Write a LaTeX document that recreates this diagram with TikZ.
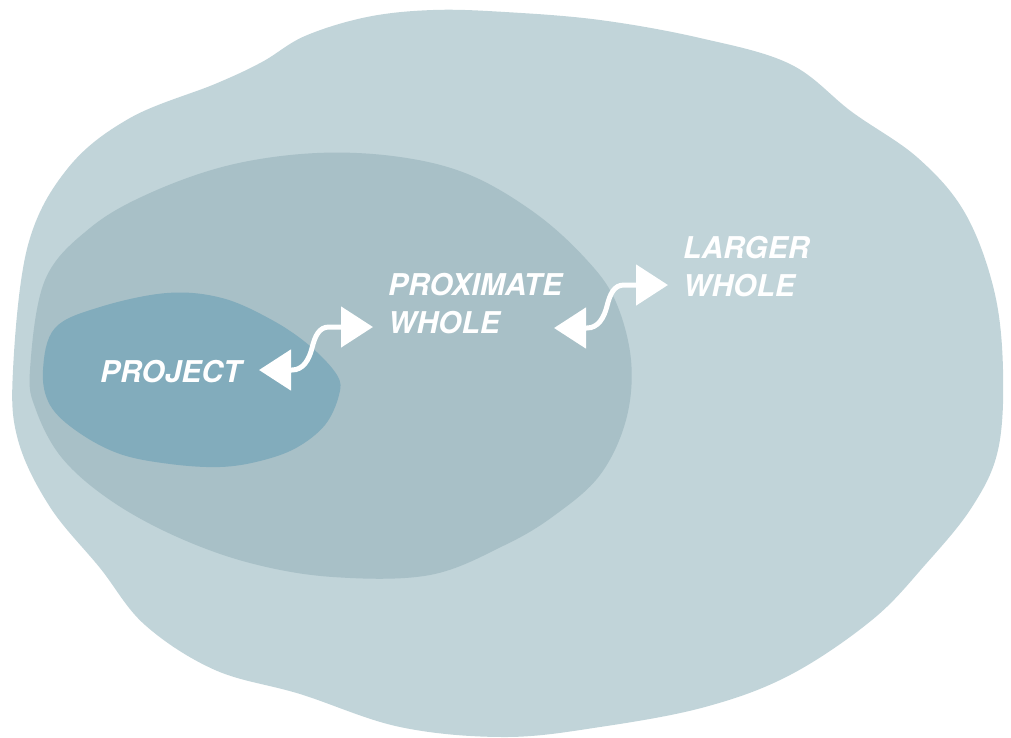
\documentclass[tikz,border=0pt]{standalone}
\usepackage{fontspec}
\setmainfont{TeX Gyre Heros}
\usetikzlibrary{arrows.meta,calc}
\definecolor{outerc}{RGB}{193,212,217}
\definecolor{midc}{RGB}{168,192,199}
\definecolor{innerc}{RGB}{130,172,188}
\begin{document}
\begin{tikzpicture}[x=1pt,y=-1pt,
  lbl/.style={text=white,font=\fontsize{30}{38}\selectfont\bfseries\itshape,inner sep=0pt,align=left},
  wavy/.style={draw=white,line width=5pt,{Triangle[length=32pt,width=40pt]}-{Triangle[length=32pt,width=40pt]}},
  blob/.style={smooth cycle,tension=0.6}]
\useasboundingbox (0,0) rectangle (1011,737);
% larger whole
\fill[outerc] plot[blob] coordinates {(13,370) (28,245) (68,168) (130,118) (215,84) (262,62) (305,36) (367,17) (433,10) (505,12) (600,20) (700,38) (790,64) (852,112) (918,158) (965,213) (994,290) (1003,370) (998,450) (972,507) (925,565) (872,620) (790,675) (705,707) (600,727) (505,737) (400,727) (300,694) (215,670) (145,625) (100,568) (50,507) (18,440)};
% proximate whole
\fill[midc] plot[blob] coordinates {(30,370) (45,280) (90,228) (150,193) (230,165) (317,153) (400,157) (470,175) (535,213) (585,258) (615,300) (631,360) (626,420) (600,475) (555,515) (505,545) (430,575) (333,577) (250,563) (175,536) (110,500) (62,458) (36,410)};
% project
\fill[innerc] plot[blob] coordinates {(43,370) (55,328) (100,307) (167,293) (222,298) (272,320) (310,346) (337,375) (339,395) (325,425) (296,448) (260,461) (220,467) (170,464) (120,454) (78,432) (50,405)};
% labels
\node[lbl,anchor=base west] (project) at (100,382) {PROJECT};
\node[lbl,anchor=north west] (proximate) at (388,273) {PROXIMATE\\WHOLE};
\node[lbl,anchor=north west] (larger) at (683,236) {LARGER\\WHOLE};
% arrows
\coordinate (a1) at (259,370);
\coordinate (b1) at ($(a1)+(114,-43)$);
\coordinate (a2) at (554,328);
\coordinate (b2) at ($(a2)+(114,-43)$);
\draw[wavy] (a1) -- ($(a1)+(33,0)$) .. controls ($(a1)+(44,0)$) and ($(a1)+(50,-10)$) .. ($(a1)+(53,-22)$) .. controls ($(a1)+(56,-34)$) and ($(a1)+(60,-43)$) .. ($(a1)+(70,-43)$) -- (b1);
\draw[wavy] (a2) -- ($(a2)+(33,0)$) .. controls ($(a2)+(44,0)$) and ($(a2)+(50,-10)$) .. ($(a2)+(53,-22)$) .. controls ($(a2)+(56,-34)$) and ($(a2)+(60,-43)$) .. ($(a2)+(70,-43)$) -- (b2);
\end{tikzpicture}
\end{document}
